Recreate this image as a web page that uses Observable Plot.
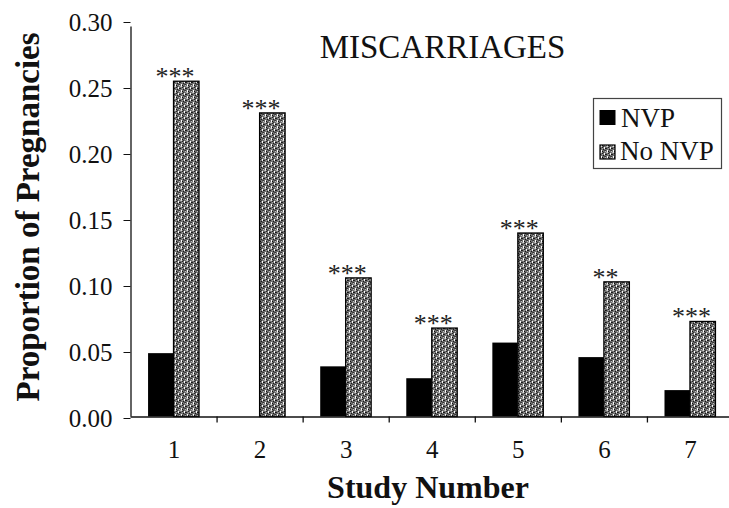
<!DOCTYPE html>
<html>
<head>
<meta charset="utf-8">
<script src="https://cdn.jsdelivr.net/npm/d3@7"></script>
<script src="https://cdn.jsdelivr.net/npm/@observablehq/plot@0.6"></script>
<style>
  html, body { margin: 0; padding: 0; background: #fff; }
  #chart { width: 729px; height: 508px; }
</style>
</head>
<body>
<div id="chart"></div>
<script>
// ---- data ----
const studies = [1, 2, 3, 4, 5, 6, 7];
const nvp     = [0.048, 0.000, 0.038, 0.029, 0.056, 0.045, 0.020];
const noNvp   = [0.254, 0.230, 0.105, 0.067, 0.139, 0.102, 0.072];
const stars   = ["***", "***", "***", "***", "***", "**", "***"];
const groups  = ["NVP", "No NVP"];
const yTicks  = [0, 0.05, 0.10, 0.15, 0.20, 0.25, 0.30];
const boundaries = [1.5, 2.5, 3.5, 4.5, 5.5, 6.5];
const titleText = "MISCARRIAGES";
const xTitle = "Study Number";
const yTitle = "Proportion of Pregnancies";

const rows = studies.flatMap((s, i) => [
  {study: s, group: groups[0], value: nvp[i]},
  {study: s, group: groups[1], value: noNvp[i]}
]);
const starRows = studies.map((s, i) => ({study: s, value: noNvp[i], label: stars[i]}));

const BW = 0.296; // bar width in study units
const serif = "Liberation Serif, Times New Roman, serif";
const ink = "#111";

const chart = Plot.plot({
  width: 729,
  height: 508,
  marginLeft: 130.5,
  marginRight: 0,
  marginTop: 20.5,
  marginBottom: 91.5,
  style: {fontFamily: serif, fontSize: "25px", color: ink, background: "#fff"},
  x: {type: "linear", domain: [0.5, 7.5], range: [130.5, 733]},
  y: {domain: [0, 0.30]},
  marks: [
    Plot.rect(rows.filter(d => d.group === groups[0] && d.value > 0), {
      x1: d => d.study - BW, x2: d => d.study, y1: 0, y2: "value", fill: "#000"
    }),
    Plot.rect(rows.filter(d => d.group === groups[1]), {
      x1: d => d.study, x2: d => d.study + BW, y1: 0, y2: "value",
      fill: "url(#stip)", stroke: "#000", strokeWidth: 1.3
    }),
    Plot.text(starRows, {
      x: "study", y: "value", text: "label", dx: 1, dy: -5,
      lineAnchor: "middle", fontSize: 26, fill: "#222"
    }),
    Plot.ruleY([0], {stroke: ink, strokeWidth: 1.3, x1: 0.5, x2: 7.46}),
    Plot.ruleX([0.5], {y1: 0, y2: 0.30, stroke: ink, strokeWidth: 1.3, insetBottom: -6}),
    Plot.axisY(yTicks, {
      tickSize: 7, tickPadding: 11.5, tickFormat: d3.format(".2f"),
      fontSize: 25, label: null, dy: 1.5
    }),
    Plot.axisX(studies, {
      tickSize: 0, tickPadding: 23, fontSize: 25, label: null, tickFormat: d => String(d)
    }),
    Plot.axisX(boundaries, {
      tickSize: 6, tickFormat: () => "", label: null, strokeWidth: 1.3
    })
  ]
});

document.getElementById("chart").appendChild(chart);

const svg = d3.select(chart);
// stipple pattern for the "No NVP" bars
const defs = svg.insert("defs", ":first-child");
const pat = defs.append("pattern").attr("id", "stip")
  .attr("width", 6).attr("height", 6).attr("patternUnits", "userSpaceOnUse");
pat.append("rect").attr("width", 6).attr("height", 6).attr("fill", "#707070");
const specks = [
  [1,0,"#fff"],[1,1,"#f4f4f4"],[1,2,"#ddd"],[4,3,"#fff"],[4,4,"#eee"],
  [2,1,"#111"],[5,4,"#111"],[0,4,"#222"],[3,5,"#1a1a1a"],[3,2,"#333"],
  [0,2,"#aaa"],[5,1,"#bbb"],[2,4,"#999"],[5,0,"#333"],[2,3,"#222"],[4,0,"#444"]
];
specks.forEach(([x, y, c]) => pat.append("rect").attr("x", x).attr("y", y)
  .attr("width", 1).attr("height", 1).attr("fill", c));

const addText = (x, y, txt, size, weight, anchor) => svg.append("text")
  .attr("x", x).attr("y", y).attr("text-anchor", anchor)
  .attr("font-family", serif).attr("font-size", size)
  .attr("font-weight", weight).attr("fill", ink).text(txt);

// title
addText(442.5, 57.5, titleText, 33, "normal", "middle");
// x title
addText(428, 498, xTitle, 32, "bold", "middle");
// y title
svg.append("text").attr("transform", "translate(39,217) rotate(-90)")
  .attr("text-anchor", "middle").attr("font-family", serif).attr("font-size", 33)
  .attr("font-weight", "bold").attr("fill", ink).text(yTitle);

// legend
svg.append("rect").attr("x", 593.5).attr("y", 98.5).attr("width", 128).attr("height", 70)
  .attr("fill", "#fff").attr("stroke", "#444").attr("stroke-width", 1.2);
svg.append("rect").attr("x", 599.5).attr("y", 110).attr("width", 16).attr("height", 15).attr("fill", "#000");
svg.append("rect").attr("x", 600).attr("y", 145).attr("width", 15).attr("height", 14)
  .attr("fill", "url(#stip)").attr("stroke", "#000").attr("stroke-width", 1.2);
addText(621, 126.5, groups[0], 27, "normal", "start");
addText(620, 160, groups[1], 27, "normal", "start");
</script>
</body>
</html>
